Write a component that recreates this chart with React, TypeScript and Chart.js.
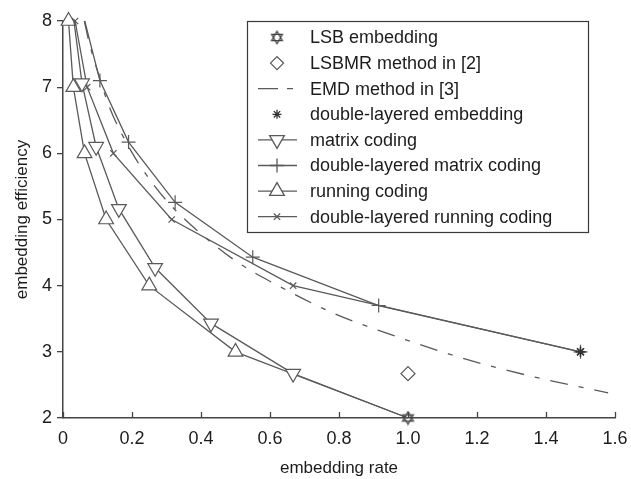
import React, { useEffect, useRef } from 'react';
import { Chart, registerables } from 'chart.js';
import { drawPoint } from 'chart.js/helpers';

Chart.register(...registerables);

// ---- data ----
const seriesLabels = [
  'LSB embedding',
  'LSBMR method in [2]',
  'EMD method in [3]',
  'double-layered embedding',
  'matrix coding',
  'double-layered matrix coding',
  'running coding',
  'double-layered running coding',
];

const lsbRate = [1.0];
const lsbEff = [2.0];

const lsbmrRate = [1.0];
const lsbmrEff = [2.67];

const emdRate = [0.062, 0.075, 0.092, 0.133, 0.198, 0.268, 0.33, 0.44, 0.51, 0.62, 0.79, 0.94, 1.16, 1.35, 1.58];
const emdEff = [8.0, 7.69, 7.38, 6.72, 6.03, 5.49, 5.12, 4.61, 4.34, 4.01, 3.57, 3.28, 2.9, 2.64, 2.38];

const dleRate = [1.5];
const dleEff = [3.0];

const matrixRate = [0.031, 0.055, 0.096, 0.162, 0.267, 0.429, 0.667, 1.0];
const matrixEff = [8.03, 7.06, 6.1, 5.16, 4.27, 3.43, 2.67, 2.0];

const dlMatrixRate = [0.063, 0.107, 0.19, 0.325, 0.55, 0.915, 1.5];
const dlMatrixEff = [8.0, 7.1, 6.17, 5.26, 4.43, 3.7, 3.0];

const runningRate = [0.016, 0.03, 0.0625, 0.125, 0.25, 0.5, 1.0];
const runningEff = [8.0, 7.0, 6.0, 5.0, 4.0, 3.0, 2.0];

const dlRunningRate = [0.035, 0.07, 0.146, 0.315, 0.667, 1.5];
const dlRunningEff = [8.0, 7.0, 6.0, 5.0, 4.0, 3.0];

const xMin = 0;
const xMax = 1.6;
const xStep = 0.2;
const yMin = 2;
const yMax = 8;
const yStep = 1;

const pts = (xs: number[], ys: number[]) => xs.map((x, i) => ({ x, y: ys[i] }));

const LINE = '#5a5a5a';
const TEXT = '#1c1c1c';
const FONT = "'Liberation Sans', Arial, Helvetica, sans-serif";

function makeHexagram(): HTMLCanvasElement {
  const c = document.createElement('canvas');
  c.width = 15;
  c.height = 15;
  const g = c.getContext('2d')!;
  const cx = 7.5, cy = 7.5, r = 6.2;
  g.strokeStyle = '#444';
  g.lineWidth = 1.3;
  for (const start of [-Math.PI / 2, Math.PI / 2]) {
    g.beginPath();
    for (let k = 0; k < 3; k++) {
      const a = start + (k * 2 * Math.PI) / 3;
      const px = cx + r * Math.cos(a);
      const py = cy + r * Math.sin(a);
      if (k === 0) g.moveTo(px, py);
      else g.lineTo(px, py);
    }
    g.closePath();
    g.stroke();
  }
  return c;
}

const legendPlugin = {
  id: 'boxLegend',
  afterDraw(chart: any) {
    const ctx: CanvasRenderingContext2D = chart.ctx;
    const bx = 247, by = 21, bw = 341, bh = 211;
    ctx.save();
    ctx.fillStyle = '#ffffff';
    ctx.fillRect(bx, by, bw, bh);
    ctx.strokeStyle = '#3a3a3a';
    ctx.lineWidth = 1.2;
    ctx.strokeRect(bx + 0.5, by + 0.5, bw, bh);
    chart.data.datasets.forEach((ds: any, i: number) => {
      const cy = 37.5 + i * 25.6;
      ctx.strokeStyle = LINE;
      ctx.lineWidth = 1.3;
      if (ds.legendLine) {
        ctx.setLineDash(ds.legendDash || []);
        ctx.beginPath();
        ctx.moveTo(258, cy);
        ctx.lineTo(297, cy);
        ctx.stroke();
        ctx.setLineDash([]);
      }
      if (ds.legendRadius > 0) {
        ctx.fillStyle = '#ffffff';
        ctx.strokeStyle = ds.pointBorderColor || LINE;
        drawPoint(ctx, {
          pointStyle: ds.pointStyle,
          radius: ds.legendRadius,
          rotation: ds.pointRotation || 0,
          borderWidth: ds.pointBorderWidth || 1.2,
        } as any, 277, cy);
      }
      ctx.fillStyle = TEXT;
      ctx.font = `18px ${FONT}`;
      ctx.textAlign = 'left';
      ctx.textBaseline = 'middle';
      ctx.fillText(ds.label, 310, cy + 1);
    });
    ctx.restore();
  },
};

const innerTicksPlugin = {
  id: 'innerXTicks',
  afterDraw(chart: any) {
    const ctx: CanvasRenderingContext2D = chart.ctx;
    const xs = chart.scales.x;
    const bottom = chart.chartArea.bottom;
    ctx.save();
    ctx.strokeStyle = '#444';
    ctx.lineWidth = 1.3;
    xs.ticks.forEach((t: any) => {
      const px = Math.round(xs.getPixelForValue(t.value)) + 0.5;
      ctx.beginPath();
      ctx.moveTo(px, bottom);
      ctx.lineTo(px, bottom - 6);
      ctx.stroke();
    });
    ctx.restore();
  },
};

export default function App() {
  const ref = useRef<HTMLCanvasElement | null>(null);

  useEffect(() => {
    document.body.style.margin = '0';
    const canvas = ref.current!;
    const hexagram = makeHexagram();

    const common = {
      borderColor: LINE,
      borderWidth: 1.3,
      pointBorderColor: LINE,
      pointBackgroundColor: '#ffffff',
      pointBorderWidth: 1.2,
      clip: false,
    };

    const chart = new Chart(canvas, {
      type: 'scatter',
      data: {
        datasets: [
          {
            ...common,
            label: seriesLabels[0],
            data: pts(lsbRate, lsbEff),
            showLine: false,
            pointStyle: hexagram,
            pointRadius: 7,
            legendRadius: 6,
            legendLine: false,
          } as any,
          {
            ...common,
            label: seriesLabels[1],
            data: pts(lsbmrRate, lsbmrEff),
            showLine: false,
            pointStyle: 'rectRot',
            pointRadius: 7,
            legendRadius: 6.5,
            legendLine: false,
          },
          {
            ...common,
            label: seriesLabels[2],
            data: pts(emdRate, emdEff),
            showLine: true,
            borderDash: [18, 11, 5, 11],
            cubicInterpolationMode: 'monotone',
            pointRadius: 0,
            legendRadius: 0,
            legendLine: true,
            legendDash: [20, 9, 6, 100],
          },
          {
            ...common,
            label: seriesLabels[3],
            data: pts(dleRate, dleEff),
            showLine: false,
            pointStyle: 'star',
            pointRadius: 5,
            pointBorderColor: '#333',
            pointBorderWidth: 1.6,
            legendRadius: 4.5,
            legendLine: false,
          },
          {
            ...common,
            label: seriesLabels[4],
            data: pts(matrixRate, matrixEff),
            showLine: true,
            pointStyle: 'triangle',
            pointRotation: 180,
            pointRadius: matrixRate.map((r, i) => (i === 0 || r === 1.0 ? 0 : 8.5)),
            legendRadius: 8.5,
            legendLine: true,
          },
          {
            ...common,
            label: seriesLabels[5],
            data: pts(dlMatrixRate, dlMatrixEff),
            showLine: true,
            pointStyle: 'cross',
            pointRadius: dlMatrixRate.map((_, i) => (i === 0 ? 0 : 7)),
            legendRadius: 7,
            legendLine: true,
          },
          {
            ...common,
            label: seriesLabels[6],
            data: pts(runningRate, runningEff),
            showLine: true,
            pointStyle: 'triangle',
            pointRadius: runningRate.map((r) => (r === 1.0 ? 0 : 8.5)),
            legendRadius: 8.5,
            legendLine: true,
          },
          {
            ...common,
            label: seriesLabels[7],
            data: pts(dlRunningRate, dlRunningEff),
            showLine: true,
            pointStyle: 'crossRot',
            pointRadius: 4.5,
            legendRadius: 4.5,
            legendLine: true,
          },
        ],
      },
      options: {
        responsive: false,
        animation: false,
        devicePixelRatio: 1,
        layout: { padding: { top: 21, right: 16, left: 0, bottom: 0 } },
        plugins: {
          legend: { display: false },
          tooltip: { enabled: false },
        },
        scales: {
          x: {
            type: 'linear',
            min: xMin,
            max: xMax,
            afterFit: (s: any) => {
              s.height = 61;
              s.paddingLeft = 0;
              s.paddingRight = 0;
            },
            border: { display: true, color: '#444', width: 1.5 },
            grid: { display: true, drawOnChartArea: false, drawTicks: false },
            ticks: {
              stepSize: xStep,
              padding: 10,
              color: TEXT,
              font: { family: FONT, size: 18 },
              maxRotation: 0,
              callback: (v: any) => (Math.abs(Number(v)) < 1e-9 ? '0' : Number(v).toFixed(1)),
            },
            title: {
              display: true,
              text: 'embedding rate',
              color: TEXT,
              font: { family: FONT, size: 17, lineHeight: 1.2 },
              padding: { top: 0, bottom: 0 },
            },
          },
          y: {
            type: 'linear',
            min: yMin,
            max: yMax,
            afterFit: (s: any) => {
              s.width = 63;
              s.paddingTop = 0;
              s.paddingBottom = 0;
            },
            border: { display: true, color: '#444', width: 1.5 },
            grid: { display: true, drawOnChartArea: false, drawTicks: true, tickLength: 6, color: '#444', lineWidth: 1.3 },
            ticks: {
              stepSize: yStep,
              padding: 5,
              color: TEXT,
              font: { family: FONT, size: 18 },
            },
            title: {
              display: true,
              text: 'embedding efficiency',
              color: TEXT,
              font: { family: FONT, size: 17 },
              padding: { top: 12, bottom: 0 },
            },
          },
        },
      },
      plugins: [innerTicksPlugin, legendPlugin],
    } as any);

    return () => {
      chart.destroy();
    };
  }, []);

  return (
    <div style={{ width: 631, height: 479, position: 'relative', background: '#fff' }}>
      <canvas ref={ref} width={631} height={479} style={{ display: 'block', width: 631, height: 479 }} />
    </div>
  );
}
